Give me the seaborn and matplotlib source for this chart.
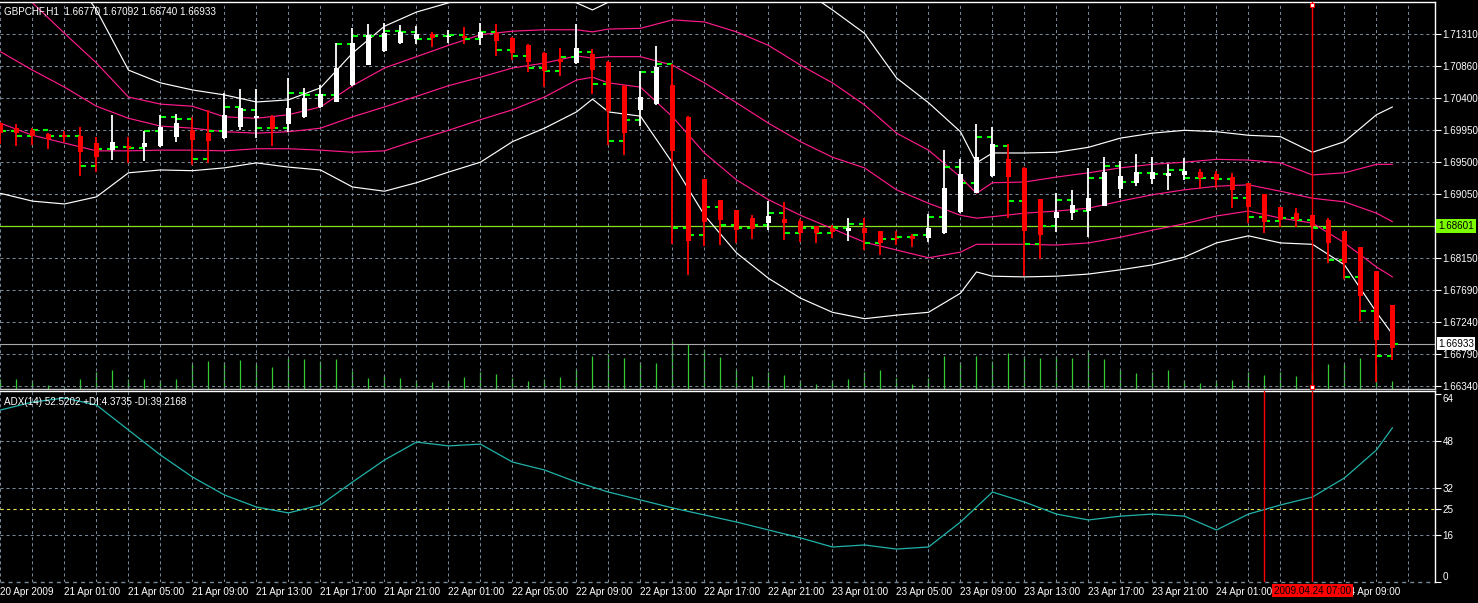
import matplotlib
matplotlib.use("Agg")
import matplotlib.pyplot as plt
import numpy as np
import seaborn as sns

# hourly bars, bar 0 = 20 Apr 2009 21:00 ... bar 87 = 24 Apr 12:00
# Heiken Ashi candles (red / white)
ha_open = [1.7005, 1.6998, 1.6995, 1.6990, 1.6988, 1.6987, 1.6977, 1.6967, 1.6973, 1.6971, 1.6973,
           1.6986, 1.6995, 1.6991, 1.6984, 1.6999, 1.7012, 1.7014, 1.7004, 1.7014, 1.7028, 1.7035,
           1.7059, 1.7087, 1.7107, 1.7118, 1.7124, 1.7131, 1.7127, 1.7128, 1.7125, 1.7132, 1.7125,
           1.7115, 1.7104, 1.7096, 1.7090, 1.7103, 1.7091, 1.7058, 1.7024, 1.7032, 1.7059, 1.7014,
           1.6926, 1.6897, 1.6882, 1.6871, 1.6864, 1.6870, 1.6867, 1.6860, 1.6857, 1.6853, 1.6857,
           1.6853, 1.6843, 1.6846, 1.6843, 1.6850, 1.6880, 1.6906, 1.6931, 1.6954, 1.6942, 1.6898,
           1.6871, 1.6878, 1.6881, 1.6888, 1.6912, 1.6921, 1.6926, 1.6931, 1.6932, 1.6936, 1.6933,
           1.6929, 1.6921, 1.6905, 1.6887, 1.6878, 1.6875, 1.6868, 1.6853, 1.6830, 1.6796, 1.6748]
ha_high = [1.7007, 1.7004, 1.6998, 1.6991, 1.6994, 1.6999, 1.6986, 1.7017, 1.6986, 1.6994, 1.7017,
           1.7018, 1.7014, 1.7024, 1.7048, 1.7053, 1.7053, 1.7017, 1.7069, 1.7055, 1.7059, 1.7118,
           1.7139, 1.7145, 1.7147, 1.7144, 1.7142, 1.7134, 1.7137, 1.7141, 1.7147, 1.7145, 1.7127,
           1.7117, 1.7106, 1.7111, 1.7145, 1.7110, 1.7093, 1.7059, 1.7079, 1.7114, 1.7089, 1.7015,
           1.6926, 1.6897, 1.6882, 1.6875, 1.6895, 1.6894, 1.6870, 1.6860, 1.6861, 1.6871, 1.6871,
           1.6853, 1.6853, 1.6849, 1.6877, 1.6967, 1.6954, 1.7004, 1.6999, 1.6976, 1.6943, 1.6898,
           1.6906, 1.6911, 1.6942, 1.6957, 1.6952, 1.6962, 1.6957, 1.6947, 1.6956, 1.6940, 1.6938,
           1.6935, 1.6921, 1.6905, 1.6887, 1.6885, 1.6875, 1.6871, 1.6853, 1.6830, 1.6796, 1.6748]
ha_low = [1.6976, 1.6973, 1.6974, 1.6969, 1.6979, 1.6931, 1.6936, 1.6953, 1.6949, 1.6952, 1.6971,
          1.6979, 1.6946, 1.6949, 1.6983, 1.6995, 1.6984, 1.6973, 1.6993, 1.7012, 1.7027, 1.7035,
          1.7058, 1.7087, 1.7106, 1.7117, 1.7117, 1.7113, 1.7118, 1.7117, 1.7115, 1.7100, 1.7094,
          1.7077, 1.7056, 1.7072, 1.7089, 1.7046, 1.6974, 1.6960, 1.7001, 1.7031, 1.6834, 1.6791,
          1.6832, 1.6833, 1.6836, 1.6842, 1.6854, 1.6840, 1.6837, 1.6836, 1.6843, 1.6839, 1.6826,
          1.6819, 1.6833, 1.6830, 1.6837, 1.6849, 1.6878, 1.6906, 1.6929, 1.6871, 1.6789, 1.6813,
          1.6851, 1.6868, 1.6844, 1.6888, 1.6899, 1.6916, 1.6919, 1.6911, 1.6925, 1.6914, 1.6914,
          1.6885, 1.6864, 1.6850, 1.6858, 1.6858, 1.6840, 1.6808, 1.6785, 1.6726, 1.6640, 1.6671]
ha_close = [1.6991, 1.6991, 1.6987, 1.6983, 1.6986, 1.6964, 1.6957, 1.6979, 1.6970, 1.6977, 1.6999,
            1.7005, 1.6981, 1.6980, 1.7017, 1.7027, 1.7015, 1.6997, 1.7027, 1.7041, 1.7046, 1.7083,
            1.7118, 1.7130, 1.7132, 1.7134, 1.7131, 1.7125, 1.7128, 1.7125, 1.7134, 1.7121, 1.7104,
            1.7091, 1.7079, 1.7091, 1.7111, 1.7080, 1.7022, 1.6991, 1.7042, 1.7084, 1.6966, 1.6839,
            1.6866, 1.6868, 1.6854, 1.6856, 1.6874, 1.6864, 1.6850, 1.6850, 1.6851, 1.6857, 1.6850,
            1.6836, 1.6842, 1.6842, 1.6857, 1.6914, 1.6933, 1.6957, 1.6976, 1.6929, 1.6853, 1.6847,
            1.6880, 1.6890, 1.6899, 1.6936, 1.6931, 1.6936, 1.6936, 1.6935, 1.6938, 1.6928, 1.6925,
            1.6911, 1.6887, 1.6866, 1.6868, 1.6868, 1.6860, 1.6836, 1.6808, 1.6761, 1.6699, 1.6688]

# green bar chart underneath: close of each bar (open = previous close)
bar_close = [1.6994, 1.6987, 1.6995, 1.6987, 1.6987, 1.6945, 1.6969, 1.6971, 1.6970, 1.6994, 1.7014,
             1.7011, 1.6954, 1.6994, 1.7028, 1.7024, 1.6998, 1.6998, 1.7048, 1.7045, 1.7045, 1.7117,
             1.7128, 1.7128, 1.7135, 1.7134, 1.7124, 1.7128, 1.7130, 1.7124, 1.7134, 1.7108, 1.7100,
             1.7083, 1.7079, 1.7099, 1.7106, 1.7060, 1.6980, 1.7010, 1.7077, 1.7089, 1.6857, 1.6847,
             1.6887, 1.6861, 1.6857, 1.6861, 1.6878, 1.6850, 1.6857, 1.6850, 1.6857, 1.6863, 1.6836,
             1.6842, 1.6844, 1.6847, 1.6873, 1.6943, 1.6921, 1.6986, 1.6973, 1.6895, 1.6834, 1.6860,
             1.6897, 1.6881, 1.6928, 1.6945, 1.6922, 1.6935, 1.6933, 1.6939, 1.6928, 1.6928, 1.6926,
             1.6899, 1.6873, 1.6867, 1.6871, 1.6868, 1.6857, 1.6812, 1.6788, 1.6740, 1.6677, 1.6693]
first_open = 1.6994

tick_volume = [200, 200, 180, 80, 60, 200, 340, 380, 200, 200, 180,
               200, 500, 560, 540, 580, 500, 440, 620, 600, 560, 600,
               360, 220, 280, 220, 180, 140, 160, 240, 340, 300, 220,
               160, 200, 240, 400, 660, 700, 620, 540, 520, 960, 900,
               800, 640, 380, 260, 340, 280, 180, 100, 180, 200, 340,
               380, 220, 100, 220, 660, 540, 660, 560, 720, 660, 620,
               660, 620, 780, 600, 380, 320, 340, 380, 180, 120, 180,
               180, 340, 280, 340, 260, 360, 500, 500, 620, 500, 160]

# bollinger style bands, read at these bars
band_bars = list(range(0, 37, 2)) + [37] + list(range(38, 61, 2)) + [61] + list(range(62, 87, 2)) + [87]
bb_up2 = [1.7305, 1.7264, 1.7228, 1.7165, 1.7080, 1.7062, 1.7052, 1.7045, 1.7035, 1.7038,
          1.7055, 1.7104, 1.7142, 1.7162, 1.7175, 1.7190, 1.7195, 1.7186, 1.7175, 1.7165,
          1.7176, 1.7182, 1.7231, 1.7259, 1.7245, 1.7224, 1.7196, 1.7165, 1.7132, 1.7069,
          1.7034, 1.6993, 1.6949, 1.6963, 1.6963, 1.6964, 1.6971, 1.6984, 1.6991, 1.6995,
          1.6993, 1.6988, 1.6986, 1.6964, 1.6979, 1.7017, 1.7028]
bb_up1 = [1.7206, 1.7175, 1.7132, 1.7090, 1.7042, 1.7032, 1.7029, 1.7014, 1.7012, 1.7017,
          1.7028, 1.7058, 1.7083, 1.7099, 1.7115, 1.7130, 1.7135, 1.7137, 1.7137, 1.7134,
          1.7138, 1.7139, 1.7151, 1.7148, 1.7134, 1.7115, 1.7087, 1.7062, 1.7031, 1.6991,
          1.6967, 1.6929, 1.6906, 1.6921, 1.6922, 1.6929, 1.6935, 1.6942, 1.6947, 1.6950,
          1.6954, 1.6953, 1.6949, 1.6932, 1.6935, 1.6947, 1.6947]
bb_mid = [1.7106, 1.7080, 1.7056, 1.7029, 1.7012, 1.7001, 1.6998, 1.6993, 1.6991, 1.6993,
          1.6998, 1.7014, 1.7028, 1.7043, 1.7058, 1.7070, 1.7083, 1.7090, 1.7100, 1.7097,
          1.7099, 1.7099, 1.7087, 1.7062, 1.7034, 1.7005, 1.6979, 1.6957, 1.6942, 1.6911,
          1.6892, 1.6875, 1.6871, 1.6873, 1.6878, 1.6881, 1.6885, 1.6895, 1.6904, 1.6911,
          1.6916, 1.6918, 1.6909, 1.6899, 1.6894, 1.6878, 1.6866]
bb_lo1 = [1.7005, 1.6988, 1.6977, 1.6966, 1.6966, 1.6967, 1.6967, 1.6966, 1.6969, 1.6969,
          1.6967, 1.6964, 1.6966, 1.6981, 1.6995, 1.7010, 1.7024, 1.7042, 1.7066, 1.7070,
          1.7062, 1.7056, 1.7014, 1.6963, 1.6925, 1.6897, 1.6875, 1.6856, 1.6837, 1.6826,
          1.6815, 1.6823, 1.6834, 1.6834, 1.6834, 1.6833, 1.6836, 1.6844, 1.6854, 1.6863,
          1.6874, 1.6881, 1.6871, 1.6864, 1.6836, 1.6802, 1.6788]
bb_lo2 = [1.6906, 1.6895, 1.6891, 1.6901, 1.6935, 1.6939, 1.6938, 1.6942, 1.6949, 1.6943,
          1.6939, 1.6915, 1.6909, 1.6921, 1.6936, 1.6950, 1.6979, 1.6998, 1.7021, 1.7039,
          1.7021, 1.7015, 1.6949, 1.6875, 1.6822, 1.6786, 1.6758, 1.6738, 1.6729, 1.6734,
          1.6738, 1.6765, 1.6795, 1.6789, 1.6788, 1.6789, 1.6792, 1.6798, 1.6805, 1.6816,
          1.6836, 1.6846, 1.6836, 1.6834, 1.6805, 1.6738, 1.6707]

adx_bars = list(range(0, 87, 2)) + [87]
adx = [58.5, 61.2, 62.6, 60.2, 51.7, 43.2, 35.7, 29.6, 25.5, 23.5, 26.2,
       34.0, 41.5, 47.6, 46.3, 46.9, 40.8, 38.1, 34.0, 30.6, 27.9,
       25.2, 22.8, 20.4, 17.7, 15.0, 11.9, 12.6, 11.2, 11.9, 20.4,
       30.6, 27.2, 23.1, 21.1, 22.4, 23.1, 22.4, 17.7, 23.1, 26.2,
       28.9, 35.4, 44.9, 52.5]

price_ticks = [1.71310, 1.70860, 1.70400, 1.69950, 1.69500, 1.69050,
               1.68150, 1.67690, 1.67240, 1.66790, 1.66340]
adx_ticks = [0, 16, 25, 32, 48, 64]
# the 24 Apr 05:00 label sits under the red time box, so it is left blank
time_labels = ["20 Apr 2009", "21 Apr 01:00", "21 Apr 05:00", "21 Apr 09:00", "21 Apr 13:00",
               "21 Apr 17:00", "21 Apr 21:00", "22 Apr 01:00", "22 Apr 05:00", "22 Apr 09:00",
               "22 Apr 13:00", "22 Apr 17:00", "22 Apr 21:00", "23 Apr 01:00", "23 Apr 05:00",
               "23 Apr 09:00", "23 Apr 13:00", "23 Apr 17:00", "23 Apr 21:00", "24 Apr 01:00",
               "", "24 Apr 09:00"]
hline_price = 1.68601
bid_price = 1.66933
vline_bar = 82
adx_vline_bar = 79

sns.set_theme(style="dark", rc={"axes.facecolor": "black", "figure.facecolor": "black"})
plt.rcParams['font.family'] = ['Liberation Sans', 'DejaVu Sans']
FS = 7.1
GRID = '#778899'
DASH = (0, (2.9, 2.9))

W, H = 1478, 603
def rect(x0, y0, x1, y1):
    return [x0 / W, 1 - y1 / H, (x1 - x0) / W, (y1 - y0) / H]

fig = plt.figure(figsize=(W / 100, H / 100), dpi=100, facecolor='black')
axv = fig.add_axes(rect(0, 2, 1435, 389), zorder=1)
ax = fig.add_axes(rect(0, 2, 1435, 389), zorder=2)
ax2 = fig.add_axes(rect(0, 391, 1435, 582))
ax.patch.set_visible(False)
axv.set_facecolor('black')

xlim = (-0.03, 1435 / 16 - 0.03)
n = len(ha_open)
bars = np.arange(n)

# volumes
axv.vlines(bars, 0, tick_volume, color='#32CD32', lw=0.9)
axv.set_xlim(xlim)
axv.set_ylim(0, 7740)
axv.set_axis_off()

# grid
for v in price_ticks + [hline_price]:
    ax.axhline(v, color=GRID, lw=0.75, ls=DASH, zorder=0)
for j in range(0, 45):
    ax.axvline(2 * j, color=GRID, lw=0.75, ls=DASH, zorder=0)
    ax2.axvline(2 * j, color=GRID, lw=0.75, ls=DASH, zorder=0)
for v in [16, 32, 48]:
    ax2.axhline(v, color=GRID, lw=0.75, ls=DASH, zorder=0)
ax2.axhline(0, color=GRID, lw=1.0, ls=DASH, zorder=0, clip_on=False)
ax2.axhline(25, color='#E6E64C', lw=0.8, ls=DASH, zorder=1)

# horizontal line objects
ax.axhline(hline_price, color='#86E01E', lw=0.9, zorder=1)
ax.axhline(bid_price, color='#A8A8A8', lw=0.8, zorder=1)

# bands
for vals, col in [(bb_up2, 'white'), (bb_lo2, 'white'),
                  (bb_up1, '#FF1A8C'), (bb_mid, '#FF1A8C'), (bb_lo1, '#FF1A8C')]:
    sns.lineplot(x=band_bars, y=vals, ax=ax, color=col, linewidth=0.85, zorder=2)

# green bar chart ticks
bar_open = [first_open] + bar_close[:-1]
ax.hlines(bar_open, bars - 0.36, bars, color='#00FF00', lw=1.5, zorder=3)
ax.hlines(bar_close, bars, bars + 0.36, color='#00FF00', lw=1.5, zorder=3)

# Heiken Ashi candles
o = np.array(ha_open)
c = np.array(ha_close)
cols = np.where(c >= o, 'white', '#FF0000')
ax.vlines(bars, ha_low, ha_high, color=cols, lw=1.3, zorder=4)
body_lo = np.minimum(o, c)
body_h = np.maximum(np.abs(c - o), 0.00016)
ax.bar(bars, body_h, bottom=body_lo, width=0.31, color=cols, linewidth=0, zorder=5)

# vertical line object
ax.axvline(vline_bar, color='#FF0000', lw=1.0, zorder=6)
ax2.axvline(vline_bar, color='#FF0000', lw=1.0, zorder=6)
ax2.axvline(adx_vline_bar, color='#FF0000', lw=1.0, zorder=6)
ax.plot([vline_bar, vline_bar], [0.992, 0.006], transform=ax.get_xaxis_transform(),
        ls='none', marker='s', ms=3.2, mfc='white', mec='#FF0000', mew=0.8, zorder=7, clip_on=False)

ax.set_xlim(xlim)
ax.set_ylim(1.66297, 1.71762)
ax.set_xlabel('')
ax.set_ylabel('')
ax.set_xticks([])
ax.yaxis.tick_right()
ax.set_yticks(price_ticks, labels=[f"{v:.5f}" for v in price_ticks])
ax.tick_params(axis='y', colors='white', labelsize=FS, length=4, width=0.8, pad=1.5, right=True, left=False)

# ADX panel
sns.lineplot(x=adx_bars, y=adx, ax=ax2, color='#20B2AA', linewidth=0.9, zorder=3)
ax2.set_xlim(xlim)
ax2.set_ylim(0, 64.97)
ax2.set_xlabel('')
ax2.set_ylabel('')
ax2.yaxis.tick_right()
ax2.set_yticks(adx_ticks, labels=[str(v) for v in adx_ticks])
ax2.tick_params(axis='y', colors='white', labelsize=FS, length=4, width=0.8, pad=1.5, right=True, left=False)
ylabs = ax2.get_yticklabels()
ylabs[0].set_va('bottom')
ylabs[-1].set_va('top')
ax2.set_xticks(range(0, 88, 4), labels=time_labels)
ax2.tick_params(axis='x', colors='white', labelsize=FS, length=3, width=0.8, direction='in', pad=3.5)
for t in ax2.get_xticklabels():
    t.set_ha('left')

for a in (ax, ax2):
    a.grid(False)
    a.spines['left'].set_visible(False)
    a.spines['right'].set_color('white')
    a.spines['top'].set_color('white')
    a.spines['right'].set_linewidth(1.0)
    a.spines['top'].set_linewidth(1.0)
ax.spines['bottom'].set_color('#C8C8C8')
ax.spines['bottom'].set_linewidth(1.0)
ax2.spines['bottom'].set_visible(False)

# price labels for line objects
ax.text(1.0 + 3 / 1435, hline_price, f"{hline_price:.5f}", transform=ax.get_yaxis_transform(),
        ha='left', va='center', fontsize=FS, color='black', zorder=10, clip_on=False,
        bbox=dict(boxstyle='square,pad=0.2', fc='#7CFC00', ec='none'))
ax.text(1.0 + 3 / 1435, bid_price, f"{bid_price:.5f}", transform=ax.get_yaxis_transform(),
        ha='left', va='center', fontsize=FS, color='black', zorder=10, clip_on=False,
        bbox=dict(boxstyle='square,pad=0.15', fc='white', ec='none'))
ax2.text(vline_bar, -0.047, "2009.04.24 07:00", transform=ax2.get_xaxis_transform(),
         ha='center', va='center', fontsize=FS, color='black', zorder=10, clip_on=False,
         bbox=dict(boxstyle='square,pad=0.15', fc='#FF0000', ec='none'))

fig.text(4 / W, 1 - 12 / H, "GBPCHF,H1  1.66770 1.67092 1.66740 1.66933",
         color='white', fontsize=FS, ha='left', va='center')
fig.text(4 / W, 1 - 402 / H, "ADX(14) 52.5202 +DI:4.3735 -DI:39.2168",
         color='white', fontsize=FS, ha='left', va='center')

fig.savefig('out.png', dpi=100, facecolor='black')
